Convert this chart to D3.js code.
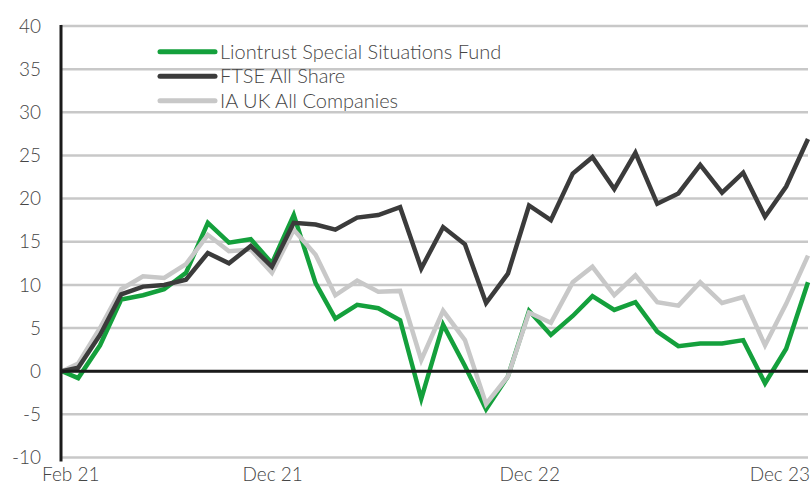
<!DOCTYPE html>
<html>
<head>
<meta charset="utf-8">
<script src="https://cdn.jsdelivr.net/npm/d3@7"></script>
<style>
  body { margin: 0; background: #fff; }
  text { font-family: Lato, "Open Sans", sans-serif; font-weight: 300; fill: #454545; }
</style>
</head>
<body>
<div id="chart"></div>
<script>
/* Cumulative performance, Liontrust Special Situations vs FTSE All Share vs IA UK All Companies */

const width = 812,
    height = 486,
    margin = ({ top: 26, right: 4, bottom: 28.5, left: 61 });

// first point is the start date, then month ends Feb 21 .. Dec 23
const startDate = "2021-02-05";
const monthEnds = d3.timeMonth.range(new Date(2021, 2, 1), new Date(2024, 0, 2))
    .map(d => d3.timeDay.offset(d, -1));
const dates = [d3.timeParse("%Y-%m-%d")(startDate)].concat(monthEnds);

const liontrust = [0, -0.8, 3.0, 8.3, 8.8, 9.5, 11.4, 17.2, 14.9, 15.3, 12.5, 18.1,
    10.2, 6.1, 7.7, 7.3, 5.9, -3.2, 5.4, 0.6, -4.4, -0.6, 7.0, 4.2,
    6.4, 8.7, 7.1, 8.0, 4.6, 2.9, 3.2, 3.2, 3.6, -1.4, 2.6, 10.3];
const ftse = [0, 0.4, 4.2, 8.9, 9.8, 10.0, 10.6, 13.7, 12.5, 14.5, 12.1, 17.2,
    17.0, 16.4, 17.8, 18.1, 19.0, 11.9, 16.7, 14.7, 7.9, 11.3, 19.2, 17.5,
    22.9, 24.8, 21.1, 25.3, 19.4, 20.6, 23.9, 20.7, 23.0, 17.9, 21.4, 26.9];
const iaUK = [0, 0.9, 5.0, 9.5, 11.0, 10.8, 12.4, 15.8, 13.9, 14.1, 11.4, 16.4,
    13.5, 8.8, 10.5, 9.2, 9.3, 1.3, 7.0, 3.6, -3.8, -0.6, 6.8, 5.6,
    10.3, 12.1, 8.8, 11.1, 8.0, 7.6, 10.3, 7.9, 8.6, 3.0, 7.8, 13.4];

const seriesNames = ["Liontrust Special Situations Fund", "FTSE All Share", "IA UK All Companies"];
const seriesColors = ["#14a03c", "#3b3b3b", "#c8c8c8"];
const yTicks = [-10, -5, 0, 5, 10, 15, 20, 25, 30, 35, 40];
const xTickDates = ["2021-02-01", "2021-12-01", "2022-12-01", "2023-12-01"];
const xTickLabels = ["Feb 21", "Dec 21", "Dec 22", "Dec 23"];

const svg = d3.select("#chart")
    .append("svg")
    .attr("width", width)
    .attr("height", height)
    .attr("viewBox", [0, 0, width, height]);

let x = d3.scaleTime()
    .domain([dates[0], dates[dates.length - 1]])
    .range([margin.left + 1, width - margin.right]);

let y = d3.scaleLinear()
    .domain([-10, 40])
    .range([height - margin.bottom, margin.top]);

// gridlines
svg.append("g")
    .selectAll("line")
    .data(yTicks)
    .join("line")
    .attr("x1", margin.left)
    .attr("x2", width - margin.right)
    .attr("y1", d => y(d))
    .attr("y2", d => y(d))
    .attr("stroke", "#c8c8c8")
    .attr("stroke-width", 2.5);

// y tick labels
svg.append("g")
    .selectAll("text")
    .data(yTicks)
    .join("text")
    .attr("x", 41)
    .attr("y", d => y(d))
    .attr("dy", "0.35em")
    .attr("text-anchor", "end")
    .style("font-size", "19px")
    .text(d => d);

// x tick labels, the end ones kept inside the picture
const parse = d3.timeParse("%Y-%m-%d");
const last = xTickDates.length - 1;
svg.append("g")
    .selectAll("text")
    .data(xTickDates)
    .join("text")
    .attr("x", (d, i) => i === 0 ? margin.left - 19 : i === last ? width - 2 : x(parse(d)))
    .attr("y", height - 5)
    .attr("text-anchor", (d, i) => i === 0 ? "start" : i === last ? "end" : "middle")
    .style("font-size", "19px")
    .text((d, i) => xTickLabels[i]);

// series
const line = d3.line()
    .x((d, i) => x(dates[i]))
    .y(d => y(d));

const drawOrder = [[liontrust, 0], [iaUK, 2], [ftse, 1]];
svg.append("g")
    .selectAll("path")
    .data(drawOrder)
    .join("path")
    .attr("d", d => line(d[0]))
    .attr("fill", "none")
    .attr("stroke", d => seriesColors[d[1]])
    .attr("stroke-width", 4.5)
    .attr("stroke-linejoin", "miter");

// zero line and y axis
svg.append("line")
    .attr("x1", margin.left)
    .attr("x2", width - margin.right)
    .attr("y1", y(0))
    .attr("y2", y(0))
    .attr("stroke", "#1a1a1a")
    .attr("stroke-width", 3);

svg.append("line")
    .attr("x1", margin.left)
    .attr("x2", margin.left)
    .attr("y1", margin.top - 1)
    .attr("y2", height - margin.bottom + 4)
    .attr("stroke", "#1a1a1a")
    .attr("stroke-width", 3);

// legend
const legend = svg.append("g")
    .selectAll("g")
    .data(seriesNames)
    .join("g")
    .attr("transform", (d, i) => `translate(160,${51.7 + i * 24.5})`);

legend.append("line")
    .attr("x1", 0)
    .attr("x2", 55)
    .attr("stroke", (d, i) => seriesColors[i])
    .attr("stroke-width", 5)
    .attr("stroke-linecap", "round");

legend.append("text")
    .attr("x", 60)
    .attr("dy", "0.35em")
    .style("font-size", "20px")
    .text(d => d);
</script>
</body>
</html>
